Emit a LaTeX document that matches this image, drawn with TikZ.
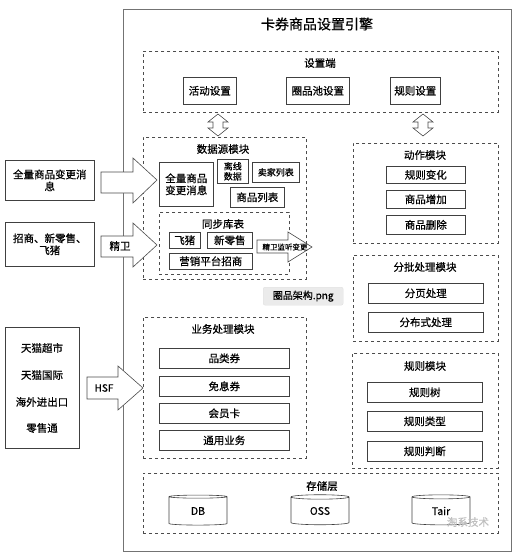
\documentclass[tikz,border=0pt]{standalone}
\usepackage{fontspec}
\setmainfont{Noto Sans CJK SC}[FakeBold=0.6]
\usetikzlibrary{shapes.geometric}
\begin{document}
\begin{tikzpicture}[x=1pt,y=-1pt,
    txt/.style={font=\fontsize{10.5}{12}\selectfont, inner sep=0pt},
    sbox/.style={draw=black!75, line width=0.6pt, anchor=north west, inner sep=0pt, font=\fontsize{10.5}{12}\selectfont, align=center},
    dbox/.style={draw=black!70, dashed, line width=0.6pt, anchor=north west, inner sep=0pt},
    blockarrow/.style={draw=black!70, line width=0.6pt, fill=white},
    db/.style={draw=black!75, line width=0.6pt, cylinder, shape border rotate=90, aspect=0.22, minimum width=58pt, minimum height=30pt, inner sep=0pt, font=\fontsize{10.5}{12}\selectfont}]
  \useasboundingbox (0,0) rectangle (516,557);
  \node[draw=black!55, line width=1.2pt, anchor=north west, minimum width=388pt, minimum height=542pt, inner sep=0pt] (engine) at (123,9) {};
  \node[txt, font=\fontsize{14}{16}\selectfont] (title) at (317,24) {卡券商品设置引擎};
  \node[dbox, minimum width=355pt, minimum height=61pt] (setting) at (143,51) {};
  \node[txt] (settinglbl) at (320,63) {设置端};
  \node[sbox, minimum width=53pt, minimum height=27pt] (act) at (183,77) {活动设置};
  \node[sbox, minimum width=63pt, minimum height=27pt] (pool) at (286,77) {圈品池设置};
  \node[sbox, minimum width=50pt, minimum height=27pt] (rule) at (390,77) {规则设置};
  \draw[blockarrow] (218,114) -- (228,122) -- (223,122) -- (223,128) -- (228,128) -- (218,136)
    -- (208,128) -- (213,128) -- (213,122) -- (208,122) -- cycle;
  \draw[blockarrow] (423,114) -- (433,122) -- (428,122) -- (428,128) -- (433,128) -- (423,136)
    -- (413,128) -- (418,128) -- (418,122) -- (413,122) -- cycle;
  \node[dbox, minimum width=163pt, minimum height=142pt] (data) at (143,137) {};
  \node[txt] (datalbl) at (223,149) {数据源模块};
  \node[sbox, minimum width=54pt, minimum height=44pt] (fullmsg) at (159,162) {全量商品\\变更消息};
  \node[sbox, minimum width=31pt, minimum height=24pt, font=\fontsize{9}{10}\selectfont] (offline) at (217,159) {离线\\数据};
  \node[sbox, minimum width=47pt, minimum height=20pt, font=\fontsize{9}{10}\selectfont] (seller) at (252,162) {卖家列表};
  \node[sbox, minimum width=54pt, minimum height=20pt] (goods) at (230,187) {商品列表};
  \node[dbox, minimum width=130pt, minimum height=62pt] (sync) at (159,212) {};
  \node[txt] (synclbl) at (223,224) {同步库表};
  \node[sbox, minimum width=31pt, minimum height=16pt] (feizhu) at (169,232) {飞猪};
  \node[sbox, minimum width=45pt, minimum height=16pt] (retail) at (207,232) {新零售};
  \node[sbox, minimum width=83pt, minimum height=16pt] (market) at (169,253) {营销平台招商};
  \draw[blockarrow] (257,240) -- (288,240) -- (288,232) -- (312,247) -- (288,262) -- (288,253) -- (257,253) -- cycle;
  \node[txt, font=\fontsize{7.5}{8}\selectfont] (listen) at (285,247) {精卫监听变更};
  \node[dbox, minimum width=145pt, minimum height=100pt] (action) at (353,143) {};
  \node[txt] (actionlbl) at (425,155) {动作模块};
  \node[sbox, minimum width=79pt, minimum height=17pt] (rulechg) at (386,166) {规则变化};
  \node[sbox, minimum width=79pt, minimum height=18pt] (goodsadd) at (386,190) {商品增加};
  \node[sbox, minimum width=79pt, minimum height=19pt] (goodsdel) at (386,215) {商品删除};
  \node[dbox, minimum width=145pt, minimum height=86pt] (batch) at (353,255) {};
  \node[txt] (batchlbl) at (425,267) {分批处理模块};
  \node[sbox, minimum width=115pt, minimum height=20pt] (paging) at (368,283) {分页处理};
  \node[sbox, minimum width=115pt, minimum height=20pt] (dist) at (368,312) {分布式处理};
  \node[dbox, minimum width=163pt, minimum height=141pt] (biz) at (143,317) {};
  \node[txt] (bizlbl) at (223,329) {业务处理模块};
  \node[sbox, minimum width=130pt, minimum height=20pt] (cat) at (159,348) {品类券};
  \node[sbox, minimum width=130pt, minimum height=20pt] (free) at (159,376) {免息券};
  \node[sbox, minimum width=130pt, minimum height=20pt] (member) at (159,403) {会员卡};
  \node[sbox, minimum width=130pt, minimum height=20pt] (common) at (159,430) {通用业务};
  \node[dbox, minimum width=146pt, minimum height=115pt] (rules) at (352,353) {};
  \node[txt] (ruleslbl) at (425,366) {规则模块};
  \node[sbox, minimum width=115pt, minimum height=20pt] (tree) at (367,382) {规则树};
  \node[sbox, minimum width=115pt, minimum height=20pt] (type) at (367,411) {规则类型};
  \node[sbox, minimum width=115pt, minimum height=20pt] (judge) at (367,441) {规则判断};
  \node[dbox, minimum width=355pt, minimum height=60pt] (store) at (143,473) {};
  \node[txt] (storelbl) at (322,486) {存储层};
  \node[db] (dbnode) at (198,511) {DB};
  \node[db] (oss) at (320,511) {OSS};
  \node[db] (tair) at (441,511) {Tair};
  \node[sbox, minimum width=89pt, minimum height=40pt] (msg) at (5,160) {全量商品变更消\\息};
  \node[sbox, minimum width=89pt, minimum height=44pt] (src) at (5,222) {招商、新零售、\\飞猪};
  \node[sbox, minimum width=74pt, minimum height=121pt] (apps) at (5,327) {};
  \node[txt] (tmcs) at (42,348) {天猫超市};
  \node[txt] (tmgj) at (42,375) {天猫国际};
  \node[txt] (hwjck) at (42,402) {海外进出口};
  \node[txt] (lst) at (42,428) {零售通};
  \draw[blockarrow] (101,172) -- (133,172) -- (133,158) -- (157,180) -- (133,203) -- (133,193) -- (101,193) -- cycle;
  \draw[blockarrow] (101,236) -- (133,236) -- (133,223) -- (157,245) -- (133,267) -- (133,257) -- (101,257) -- cycle;
  \node[txt] (jingwei) at (120,246) {精卫};
  \draw[blockarrow] (87,377) -- (118,377) -- (118,366) -- (143,388) -- (118,410) -- (118,399) -- (87,399) -- cycle;
  \node[txt, font=\fontsize{10}{12}\selectfont] (hsf) at (104,388) {HSF};
  \node[draw=black!12, fill=black!8, rounded corners=2pt, anchor=north west, minimum width=80pt, minimum height=18pt, inner sep=0pt, font=\fontsize{10}{12}\selectfont] (tip) at (263,287) {圈品架构.png};
  \node[txt, text=black!25] (mark) at (468,522) {淘系技术};
\end{tikzpicture}
\end{document}
